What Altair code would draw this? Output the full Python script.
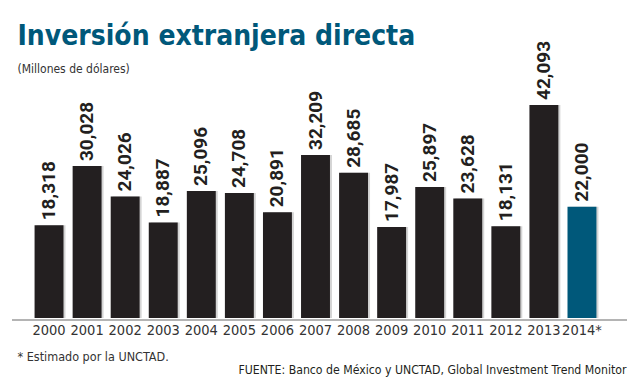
import altair as alt
import pandas as pd

years = ["2000", "2001", "2002", "2003", "2004", "2005", "2006", "2007",
         "2008", "2009", "2010", "2011", "2012", "2013", "2014*"]
values = [18318, 30028, 24026, 18887, 25096, 24708, 20891, 32209,
          28685, 17987, 25897, 23628, 18131, 42093, 22000]
estimated = [False] * 14 + [True]

df = pd.DataFrame({"year": years, "value": values, "est": estimated})
df["label"] = df["value"].map(lambda v: f"{v:,}")

W, H = 571, 253
NARROW = "DejaVu Sans Condensed"

x = alt.X("year:N", sort=years, title=None,
          scale=alt.Scale(paddingInner=0.24, paddingOuter=0.12),
          axis=alt.Axis(domain=False, ticks=False, labelAngle=0,
                        labelFont=NARROW, labelFontSize=14.5, labelColor="#333333",
                        labelPadding=5))
y = alt.Y("value:Q", title=None, scale=alt.Scale(domain=[0, 50000]), axis=None)

base = alt.Chart(df)

shadow = base.mark_bar(color="#d4d4d4", xOffset=2).encode(x=x, y=y)
bars = base.mark_bar().encode(
    x=x, y=y,
    color=alt.Color("est:N", scale=alt.Scale(domain=[False, True],
                                             range=["#231f20", "#00587a"]),
                    legend=None),
)
labels = base.mark_text(angle=270, align="left", baseline="middle", dx=5,
                        font="Roboto", fontWeight="bold", fontSize=19,
                        color="#231f20").encode(x=x, y=y, text="label:N")

axis_line = alt.Chart(pd.DataFrame({"a": [0]})).mark_rule(
    color="#b4b4b4", strokeWidth=2).encode(
    x=alt.value(-18), x2=alt.value(597), y=alt.value(H + 2))

def txt(s, xpos, ypos, size, color, weight="normal", align="left", font=NARROW):
    return alt.Chart(pd.DataFrame({"t": [s]})).mark_text(
        align=align, baseline="alphabetic", fontSize=size, font=font,
        fontWeight=weight, color=color).encode(
        x=alt.value(xpos), y=alt.value(ypos), text="t:N")

title = txt("Inversión extranjera directa", -12.5, -20, 28, "#00587a", weight="bold")
subtitle = txt("(Millones de dólares)", -12.5, 8, 12, "#333333")
note = txt("* Estimado por la UNCTAD.", -12.5, 296, 12.5, "#333333")
source = txt("FUENTE: Banco de México y UNCTAD, Global Investment Trend Monitor",
             596.5, 309, 12.2, "#231f20", align="right")

chart = alt.layer(axis_line, shadow, bars, labels, title, subtitle, note, source).properties(
    width=W, height=H,
    autosize=alt.AutoSizeParams(type="none"),
    padding={"left": 22, "top": 57, "right": 30, "bottom": 61},
    background="white",
).configure_view(stroke=None)

chart.save("out.html", embed_options={"renderer": "svg", "actions": False})
